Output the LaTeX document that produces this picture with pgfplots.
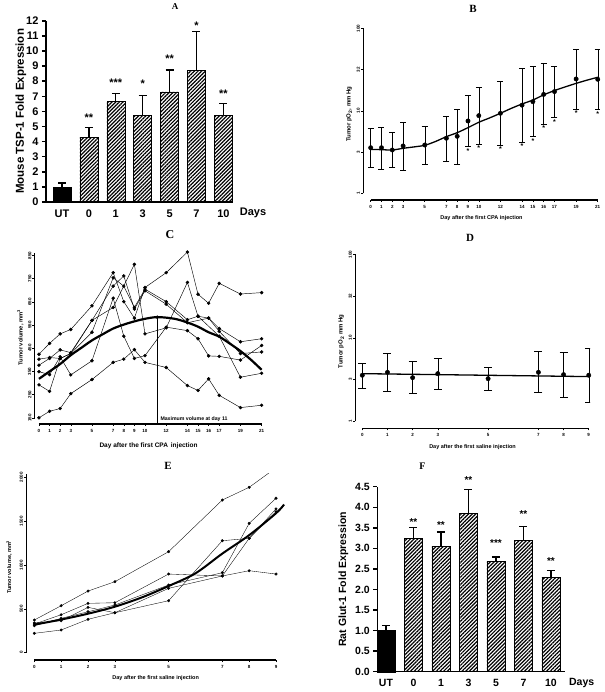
\documentclass[border=0pt]{standalone}
\usepackage{pgfplots}
\pgfplotsset{compat=1.18}
\usepackage{pgfplotstable}
\usetikzlibrary{patterns.meta}
\usepackage{fontspec}
\setmainfont{Liberation Sans}
\newfontfamily\ttlfont{Liberation Serif}
\newcommand\tf[1]{\bfseries\fontsize{#1}{#1}\selectfont}

\pgfplotstableread{
d v lo hi
0 3.57 2.07 6.19
1 3.57 1.95 6.31
2 3.35 2.05 5.48
3 3.75 1.88 7.33
5 3.85 2.27 6.49
7 4.65 2.44 8.65
8 4.91 2.27 10.5
9 7.53 3.68 15.3
10 8.73 3.93 19.3
12 9.33 3.78 23.0
14 11.7 4.15 32.7
15 12.9 4.91 34.3
16 15.8 6.79 37.7
17 17.1 8.26 34.6
19 24.3 10.5 55.6
21 24.1 10.4 55.6
}\tabB
\pgfplotstableread{
d v
0 3.41
1 3.38
2 3.35
3 3.51
4 3.65
5 3.82
6 4.25
7 4.86
8 5.43
9 6.25
10 7.26
11 8.2
12 9.33
13 10.7
14 12.1
15 13.5
16 15.6
17 17.6
18 19.5
19 21.5
20 23.5
21 25.5
}\fitB
\pgfplotstableread{
d v
9 3.29
10 3.51
12 3.41
14 3.78
15 4.35
16 6.19
17 7.32
19 9.41
21 9.16
}\starB
\pgfplotstableread{
d v lo hi
0 3.56 2.48 4.91
1 3.86 2.29 6.52
2 3.33 2.14 5.19
3 3.72 2.42 5.68
5 3.24 2.35 4.48
7 3.86 2.22 6.82
8 3.62 1.94 6.64
9 3.56 1.69 7.41
}\tabD

\pgfplotsset{
 pan/.style={anchor=south west, scale only axis, axis lines=left,
  axis line style={draw=none}, tick align=outside, major tick length=2pt,
  tick style={black, line width=0.5pt},
  xticklabel style={font=\tf{4.5}, inner sep=1pt, yshift=-2pt},
  yticklabel style={font=\tf{4.5}, rotate=90, anchor=south, inner sep=1pt},
  xlabel shift=3pt,
  /pgf/number format/assume math mode=true, clip mode=individual},
 bars/.style={anchor=south west, scale only axis, axis lines=left,
  axis line style={line width=1.5pt, -}, tick align=outside,
  major tick length=4pt, y tick style={line width=1.5pt, black},
  x tick style={draw=none},
  tick label style={font=\tf{11}}, /pgf/number format/assume math mode=true,
  clip=false},
 hatch/.style={ybar, bar shift=0pt, bar width=18pt, draw=black, line width=0.6pt,
  pattern={Lines[angle=45,distance=2.6pt,line width=1.2pt]}},
 solid/.style={ybar, bar shift=0pt, bar width=18pt, draw=black, fill=black},
 ebar/.style={error bars/.cd, y dir=plus, y explicit,
  error bar style={line width=1.2pt, black},
  error mark options={rotate=90, mark size=4pt, line width=1.2pt, black}},
 pt/.style={black, line width=0.45pt, mark=*, mark size=1.5pt, mark options={fill=black}},
}

\begin{document}
\begin{tikzpicture}
\useasboundingbox (0,0) rectangle (604pt,692pt);

% ---------------- A
\begin{axis}[bars, at={(46pt,490pt)}, width=187pt, height=181.2pt,
  xmin=-0.595, xmax=6.357, ymin=0, ymax=12,
  ytick={0,1,...,12}, xtick={0,...,6}, xticklabels={UT,0,1,3,5,7,10},
  ylabel={Mouse TSP-1 Fold Expression}, ylabel style={font=\tf{11.5}},
  ylabel shift=-7pt]
\addplot[solid, ebar] table[x=x, y=y, y error=e] {
x y e
0 0.99 0.27
};
\addplot[hatch, ebar] table[x=x, y=y, y error=e] {
x y e
1 4.30 0.63
2 6.65 0.51
3 5.73 1.32
4 7.29 1.45
5 8.74 2.56
6 5.73 0.81
};
\addplot[only marks, mark=text, text mark={*}, text mark as node=true, text mark style={font=\tf{11}}] coordinates {(3,7.8) (5,11.7)};
\addplot[only marks, mark=text, text mark={**}, text mark as node=true, text mark style={font=\tf{11}}] coordinates {(1,5.6) (4,9.5) (6,7.15)};
\addplot[only marks, mark=text, text mark={***}, text mark as node=true, text mark style={font=\tf{11}}] coordinates {(2,7.9)};
\end{axis}
\node[font=\tf{11}] at (253pt,479pt) {Days};
\node[font=\ttlfont\bfseries\fontsize{9}{9}\selectfont] at (175pt,685pt) {A};

% ---------------- B
\begin{axis}[pan, at={(363pt,492pt)}, width=236.9pt, height=171.7pt,
  xmin=-0.71, xmax=21.2, ymin=-0.081, ymax=2,
  xtick={0,1,2,3,5,7,8,9,10,12,14,15,16,17,19,21},
  ytick={0,0.5,1,1.5,2}, yticklabels={1,3,10,32,100},
  xlabel={Day after the first CPA injection}, xlabel style={font=\tf{5.5}},
  ylabel={Tumor pO\textsubscript{2}, mm Hg}, ylabel style={font=\tf{6}}]
\draw[line width=0.8pt] (axis cs:-0.71,0) -- (axis cs:-0.71,2);
\draw[line width=1.2pt] (axis cs:0,-0.081) -- (axis cs:21,-0.081);
\addplot[only marks, mark=*, mark size=2.2pt, black,
  error bars/.cd, y dir=both, y explicit,
  error bar style={line width=0.4pt, black},
  error mark options={rotate=90, mark size=3pt, line width=0.4pt, black}]
  table[x=d, y expr={log10(\thisrow{v})},
   y error plus expr={log10(\thisrow{hi})-log10(\thisrow{v})},
   y error minus expr={log10(\thisrow{v})-log10(\thisrow{lo})}] \tabB;
\addplot[smooth, line width=1.3pt, black] table[x=d, y expr={log10(\thisrow{v})}] \fitB;
\addplot[only marks, mark=text, text mark={*}, text mark as node=true, text mark style={font=\tf{7}}]
  table[x=d, y expr={log10(\thisrow{v})}] \starB;
\end{axis}
\node[font=\ttlfont\bfseries\fontsize{11}{11}\selectfont] at (473pt,682.7pt) {B};

% ---------------- C
\begin{axis}[pan, at={(34.5pt,268pt)}, width=228.2pt, height=173.1pt,
  xmin=-0.42, xmax=21.1, ymin=123.2, ymax=870,
  xtick={0,1,2,3,5,7,8,9,10,12,14,15,16,17,19,21},
  ytick={150,250,...,850},
  xlabel={Day after the first CPA\, injection}, xlabel style={font=\tf{6.5}},
  xlabel shift=6pt,
  ylabel={Tumor volume, mm\textsuperscript{3}}, ylabel style={font=\tf{5.8}}]
\draw[line width=0.8pt] (axis cs:-0.42,150) -- (axis cs:-0.42,862);
\draw[line width=1.2pt] (axis cs:0,123.2) -- (axis cs:21,123.2);
\addplot[pt] coordinates {(0,150)(1,178)(2,190)(3,254)(5,315)(7,389)(8,403)(9,444)(10,389)(12,367)(14,289)(15,268)(16,318)(17,247)(19,194)(21,204)};
\addplot[pt] coordinates {(0,424)(1,471)(2,512)(3,531)(5,633)(7,776)(8,651)(9,580)(10,712)(12,776)(14,865)(15,683)(16,644)(17,730)(19,684)(21,690)};
\addplot[pt] coordinates {(0,403)(1,410)(2,406)(3,427)(5,519)(7,754)(8,718)(9,626)(10,705)(12,651)(14,573)(15,588)(16,580)(17,535)(19,478)(21,491)};
\addplot[pt] coordinates {(0,377)(1,406)(2,443)(3,431)(5,570)(7,718)(8,762)(9,619)(10,698)(12,640)(14,560)(16,580)(17,523)(19,427)(21,434)};
\addplot[pt] coordinates {(0,349)(1,336)(2,413)(3,335)(5,396)(7,666)(8,502)(9,406)(10,418)(12,541)(14,526)(15,491)(16,417)(17,415)(19,399)(21,462)};
\addplot[pt] coordinates {(0,292)(1,264)(2,406)(3,427)(5,570)(7,626)(9,812)(10,512)(12,538)(14,734)(15,588)(17,502)(19,325)(21,342)};
\addplot[smooth, line width=2.2pt, black] coordinates {(0,318)(1,350)(2,382)(3,420)(4,452)(5,484)(6,510)(7,535)(8,552)(9,566)(10,577)(11,584)(12,582)(13,575)(14,561)(15,543)(16,519)(17,500)(18,470)(19,438)(20,400)(21,357)};
\addplot[black, line width=0.5pt] coordinates {(11.15,123.2)(11.15,584)};
\addplot[pt, only marks] coordinates {(11.15,584)};
\node[anchor=south west, font=\tf{5.2}, inner sep=1pt] at (axis cs:11.35,127) {Maximum volume at day 11};
\end{axis}
\node[font=\ttlfont\bfseries\fontsize{12}{12}\selectfont] at (170pt,457pt) {C};

% ---------------- D
\begin{axis}[pan, at={(355pt,263.7pt)}, width=235pt, height=174pt,
  xmin=-0.29, xmax=9.05, ymin=-0.084, ymax=2,
  xtick={0,1,2,3,5,7,8,9},
  ytick={0,0.5,1,1.5,2}, yticklabels={1,3,10,32,100},
  xlabel={Day after the first saline injection}, xlabel style={font=\tf{5.5}},
  ylabel={Tumor pO\textsubscript{2} mm Hg}, ylabel style={font=\tf{6}}]
\draw[line width=0.8pt] (axis cs:-0.29,0) -- (axis cs:-0.29,2);
\draw[line width=1.2pt] (axis cs:0,-0.084) -- (axis cs:9,-0.084);
\addplot[only marks, mark=*, mark size=2.2pt, black,
  error bars/.cd, y dir=both, y explicit,
  error bar style={line width=0.4pt, black},
  error mark options={rotate=90, mark size=4pt, line width=0.4pt, black}]
  table[x=d, y expr={log10(\thisrow{v})},
   y error plus expr={log10(\thisrow{hi})-log10(\thisrow{v})},
   y error minus expr={log10(\thisrow{v})-log10(\thisrow{lo})}] \tabD;
\addplot[line width=1.3pt, black] table[x=d, y expr={log10(\thisrow{v})}] {
d v
0 3.72
9 3.43
};
\end{axis}
\node[font=\ttlfont\bfseries\fontsize{11}{11}\selectfont] at (470pt,454pt) {D};

% ---------------- E
\begin{axis}[pan, at={(26pt,32pt)}, width=259.4pt, height=186.2pt,
  xmin=-0.31, xmax=9.35, ymin=-83, ymax=2040,
  xtick={0,1,2,3,5,7,8,9},
  ytick={0,500,1000,1500,2000}, yticklabels={0,500,1000,1500,2000},
  xlabel={Day after the first saline injection}, xlabel style={font=\tf{5.5}},
  ylabel={Tumor volume, mm\textsuperscript{3}}, ylabel style={font=\tf{5.5}},
  ylabel shift=3pt]
\draw[line width=0.8pt] (axis cs:-0.31,0) -- (axis cs:-0.31,2040);
\draw[line width=1.2pt] (axis cs:0,-83) -- (axis cs:9,-83);
\addplot[pt, mark size=1.3pt, line width=0.35pt] coordinates {(0,373)(1,536)(2,703)(3,810)(5,1152)(7,1741)(8,1886)(9,2108)};
\addplot[pt, mark size=1.3pt, line width=0.35pt] coordinates {(0,327)(1,433)(2,563)(3,570)(5,897)(7,875)(8,1304)(9,1608)};
\addplot[pt, mark size=1.3pt, line width=0.35pt] coordinates {(0,308)(1,392)(2,467)(3,544)(5,772)(7,912)(8,1475)(9,1761)};
\addplot[pt, mark size=1.3pt, line width=0.35pt] coordinates {(0,340)(1,365)(2,517)(3,456)(5,734)(7,875)(8,935)(9,897)};
\addplot[pt, mark size=1.3pt, line width=0.35pt] coordinates {(0,221)(1,259)(2,381)(3,456)(5,593)(7,1277)(8,1304)(9,1640)};
\addplot[smooth, line width=2pt, black] coordinates {(0,320)(1,378)(2,445)(3,525)(4,630)(5,760)(6,905)(7,1130)(8,1340)(9,1590)(9.3,1690)};
\end{axis}
\node[font=\ttlfont\bfseries\fontsize{11}{11}\selectfont] at (168pt,226pt) {E};

% ---------------- F
\begin{axis}[bars, at={(377.3pt,20.3pt)}, width=187.4pt, height=185pt,
  xmin=-0.316, xmax=6.5, ymin=0, ymax=4.5,
  ytick={0,0.5,1,1.5,2,2.5,3,3.5,4,4.5},
  yticklabel style={/pgf/number format/.cd, fixed, fixed zerofill, precision=1},
  xtick={0,...,6}, xticklabels={UT,0,1,3,5,7,10},
  tick label style={font=\tf{10.5}},
  ylabel={Rat Glut-1 Fold Expression}, ylabel style={font=\tf{10.5}}]
\addplot[solid, ebar] table[x=x, y=y, y error=e] {
x y e
0 1.01 0.11
};
\addplot[hatch, ebar] table[x=x, y=y, y error=e] {
x y e
1 3.24 0.26
2 3.05 0.35
3 3.86 0.58
4 2.68 0.11
5 3.19 0.35
6 2.30 0.16
};
\addplot[only marks, mark=text, text mark={**}, text mark as node=true, text mark style={font=\tf{10}}] coordinates {(1,3.65) (2,3.57) (3,4.66) (5,3.84) (6,2.7)};
\addplot[only marks, mark=text, text mark={***}, text mark as node=true, text mark style={font=\tf{10}}] coordinates {(4,3.12)};
\end{axis}
\node[font=\tf{10.5}] at (581.7pt,8.7pt) {Days};
\node[font=\ttlfont\bfseries\fontsize{10}{10}\selectfont] at (422.3pt,225.3pt) {F};
\end{tikzpicture}
\end{document}
